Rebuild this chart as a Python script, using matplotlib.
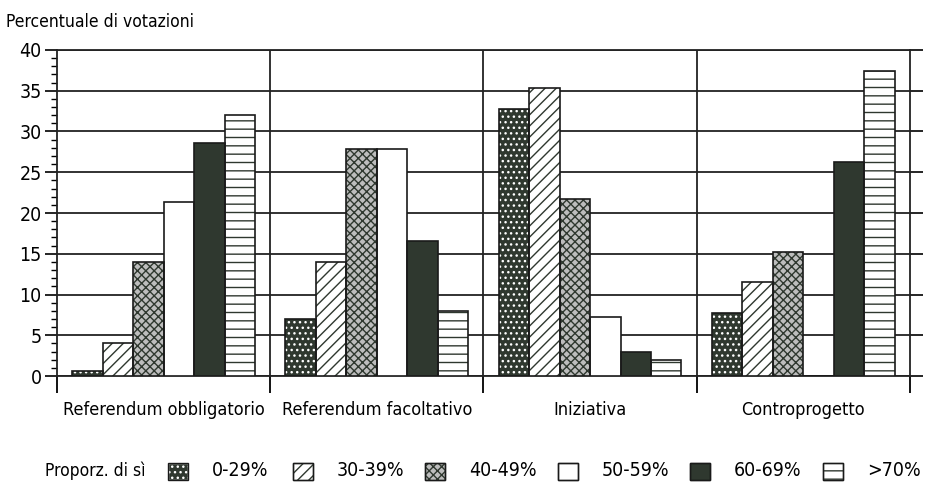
import matplotlib
matplotlib.use('Agg')
import matplotlib.pyplot as plt
from matplotlib.patches import Rectangle
import numpy as np

plt.rcParams['font.family'] = ['DejaVu Sans']
plt.rcParams['font.stretch'] = 'condensed'
plt.rcParams['hatch.linewidth'] = 1.0

# dati
categorie = ['Referendum obbligatorio', 'Referendum facoltativo', 'Iniziativa', 'Controprogetto']
classi = ['0-29%', '30-39%', '40-49%', '50-59%', '60-69%', '>70%']
v_0_29 = [0.6, 7.0, 32.8, 7.7]
v_30_39 = [4.0, 14.0, 35.3, 11.5]
v_40_49 = [14.0, 27.8, 21.7, 15.2]
v_50_59 = [21.3, 27.8, 7.2, 0.0]
v_60_69 = [28.6, 16.6, 3.0, 26.3]
v_70 = [32.0, 8.0, 2.0, 37.4]
serie = [v_0_29, v_30_39, v_40_49, v_50_59, v_60_69, v_70]

scuro = '#2f382f'
# (faccia, colore tratteggio, tratteggio)
stili = [
    (scuro, 'white', '...'),
    ('white', scuro, '///'),
    ('#bdbdbd', scuro, 'xxxx'),
    ('white', scuro, ''),
    (scuro, scuro, ''),
    ('white', scuro, '--'),
]

W, H = 925, 483
fig = plt.figure(figsize=(W / 100, H / 100), dpi=100)
ax = fig.add_axes([0.0616, 0.2215, 0.922, 0.675])

x = np.arange(len(categorie)) + 0.5
w = 0.143
for i, (vals, (fc, hc, h)) in enumerate(zip(serie, stili)):
    pos = x + (i - 2.5) * w
    ax.bar(pos, vals, w, color=fc, edgecolor=hc, hatch=h, linewidth=0, zorder=3)
    ax.bar(pos, vals, w, fill=False, edgecolor='#1a1a1a', linewidth=1.2, zorder=4)

ax.set_xlim(0, 4)
ax.set_ylim(0, 40)
ax.set_yticks(range(0, 41, 5))
ax.set_yticks(range(0, 41, 1), minor=True)
ax.yaxis.grid(True, which='major', color='#222222', linewidth=1.3, zorder=1)
ax.tick_params(axis='y', which='major', length=9, width=1.2, labelsize=14, pad=2)
ax.tick_params(axis='y', which='minor', length=4, width=1.0)
ax.tick_params(axis='y', right=True, which='major', direction='out')

ax.set_xticks([0, 1, 2, 3, 4])
ax.set_xticklabels([])
ax.set_xticks(x, minor=True)
ax.set_xticklabels(categorie, minor=True, fontsize=13)
ax.tick_params(axis='x', which='major', length=12, width=1.3)
ax.tick_params(axis='x', which='minor', length=0, pad=18)
for d in [1, 2, 3]:
    ax.axvline(d, color='#222222', linewidth=1.3, zorder=2)
for s in ax.spines.values():
    s.set_linewidth(1.3)
    s.set_color('#222222')

fig.text(0.006, 0.955, 'Percentuale di votazioni', fontsize=12.5, va='center')

# legenda in basso
yl = 1 - 471 / H
fig.text(45 / W, yl, 'Proporz. di sì', fontsize=12.5, va='center')
px_patch = [168, 293, 425, 558, 690, 823]
for px, lab, (fc, hc, h) in zip(px_patch, classi, stili):
    r = Rectangle((px / W, yl - 8.5 / H), 20 / W, 17 / H, transform=fig.transFigure,
                  facecolor=fc, edgecolor=hc if h else '#1a1a1a', hatch=h, linewidth=1.0)
    fig.add_artist(r)
    fig.add_artist(Rectangle((px / W, yl - 8.5 / H), 20 / W, 17 / H, transform=fig.transFigure,
                             fill=False, edgecolor='#1a1a1a', linewidth=1.0))
    fig.text((px + 44) / W, yl, lab, fontsize=14, va='center')

fig.savefig('out.png', dpi=100)
